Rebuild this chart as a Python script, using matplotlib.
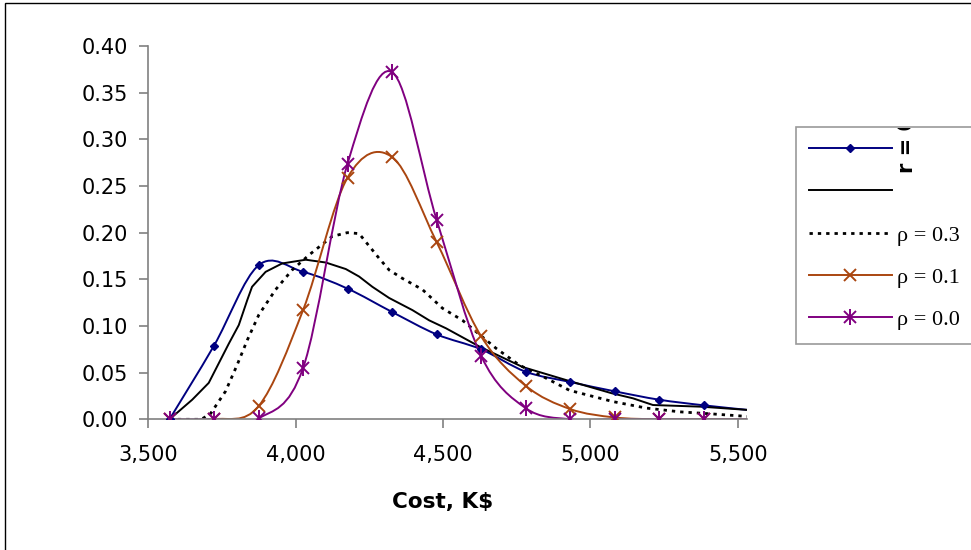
import numpy as np
import matplotlib
matplotlib.use("Agg")
import matplotlib.pyplot as plt
from matplotlib.path import Path
from matplotlib.patches import PathPatch, Rectangle
from matplotlib.lines import Line2D
from matplotlib.legend_handler import HandlerTuple
from matplotlib.ticker import FuncFormatter, MultipleLocator
from matplotlib.transforms import Bbox, TransformedBbox

# cost grid of the marked series (K$)
cost = [3572, 3723, 3874, 4025, 4176, 4327, 4478, 4629, 4780, 4931, 5082, 5233, 5384, 5535]

# marked series (smoothed lines in the original)
r_marked = [0.0, 0.079, 0.165, 0.158, 0.140, 0.115, 0.091, 0.075, 0.051, 0.040, 0.030, 0.021, 0.015, 0.010]
rho_01 = [0.0, 0.0, 0.014, 0.117, 0.259, 0.281, 0.190, 0.089, 0.036, 0.011, 0.002, 0.0, 0.0, 0.0]
rho_00 = [0.0, 0.0, 0.001, 0.055, 0.274, 0.372, 0.214, 0.068, 0.012, 0.0, 0.0, 0.0, 0.0, 0.0]

# unmarked series, read on their own cost points
solid_cost = [3572, 3649, 3705, 3739, 3773, 3807, 3836, 3852, 3898, 3954, 4034, 4102, 4170,
              4215, 4260, 4317, 4396, 4453, 4510, 4623, 4770, 4918, 5071, 5144, 5212, 5377, 5535]
solid_val = [0.0, 0.021, 0.039, 0.060, 0.081, 0.101, 0.128, 0.142, 0.158, 0.167, 0.171, 0.168, 0.161,
             0.153, 0.142, 0.130, 0.117, 0.106, 0.0975, 0.078, 0.056, 0.042, 0.028, 0.0225, 0.0153, 0.0135, 0.010]

dot_cost = [3572, 3680, 3711, 3762, 3801, 3836, 3875, 3932, 3988, 4045, 4124, 4175, 4215, 4283,
            4317, 4362, 4430, 4498, 4566, 4680, 4759, 4850, 4929, 5076, 5190, 5303, 5416, 5535]
dot_val = [0.0, 0.0, 0.006, 0.030, 0.058, 0.085, 0.112, 0.139, 0.160, 0.176, 0.196, 0.200, 0.199, 0.1725,
           0.160, 0.151, 0.139, 0.119, 0.106, 0.076, 0.058, 0.044, 0.031, 0.019, 0.012, 0.008, 0.0057, 0.003]

legend_labels = [" ", " ", "ρ = 0.3", "ρ = 0.1", "ρ = 0.0"]
rotated_label = "r = 0"

NAVY = "#000080"
ORANGE = "#AA4610"
PURPLE = "#800080"
GRAY = "#808080"


def smooth_path(xs, ys):
    # bezier curve through the points, like the spreadsheet "smoothed line"
    x = np.asarray(xs, float)
    y = np.asarray(ys, float)
    n = len(x)
    verts = [(x[0], y[0])]
    codes = [Path.MOVETO]
    for i in range(n - 1):
        j0 = max(i - 1, 0)
        j3 = min(i + 2, n - 1)
        c1 = (x[i] + (x[i + 1] - x[j0]) / 6, y[i] + (y[i + 1] - y[j0]) / 6)
        c2 = (x[i + 1] - (x[j3] - x[i]) / 6, y[i + 1] - (y[j3] - y[i]) / 6)
        verts += [c1, c2, (x[i + 1], y[i + 1])]
        codes += [Path.CURVE4] * 3
    return Path(verts, codes)


fig = plt.figure(figsize=(9.71, 5.5), dpi=100)
ax = fig.add_axes([148.3 / 971, 1 - 419.3 / 550, 598.4 / 971, 373.3 / 550])

# outer chart frame (runs off the picture at right and bottom)
fig.patches.append(Rectangle((5 / 971, -0.2), 2.0, 1.2 - 3 / 550, transform=fig.transFigure,
                             fill=False, edgecolor="black", lw=1.0))

lw = 1.4
ax.add_patch(PathPatch(smooth_path(cost, r_marked), fill=False, edgecolor=NAVY, lw=lw, zorder=2))
ax.plot(solid_cost, solid_val, color="black", lw=lw, zorder=2)
ax.plot(dot_cost, dot_val, color="black", lw=2.0, linestyle=(0, (1.2, 1.8)), zorder=2)
ax.add_patch(PathPatch(smooth_path(cost, rho_01), fill=False, edgecolor=ORANGE, lw=lw, zorder=2))
ax.add_patch(PathPatch(smooth_path(cost, rho_00), fill=False, edgecolor=PURPLE, lw=lw, zorder=2))

shown = list(range(13))
ax.plot(cost, r_marked, linestyle="none", marker="D", ms=4.5, color=NAVY, markevery=shown, zorder=3)
ax.plot(cost, rho_01, linestyle="none", marker="x", ms=9, mew=1.4, color=ORANGE, markevery=shown, zorder=3)
ax.plot(cost, rho_00, linestyle="none", marker="x", ms=9, mew=1.4, color=PURPLE, markevery=shown, zorder=4)
ax.plot(cost, rho_00, linestyle="none", marker="|", ms=11, mew=1.4, color=PURPLE, markevery=shown, zorder=4)

ax.set_xlim(3500, 5530)
ax.set_ylim(0, 0.40)
ax.xaxis.set_major_locator(MultipleLocator(500))
ax.yaxis.set_major_locator(MultipleLocator(0.05))
ax.xaxis.set_major_formatter(FuncFormatter(lambda v, p: f"{v:,.0f}"))
ax.yaxis.set_major_formatter(FuncFormatter(lambda v, p: f"{v:.2f}"))

for side in ["top", "right"]:
    ax.spines[side].set_visible(False)
for side in ["left", "bottom"]:
    ax.spines[side].set_color(GRAY)
    ax.spines[side].set_linewidth(1.2)
ax.tick_params(axis="both", direction="out", length=6.5, width=1.2, color=GRAY, labelsize=15,
               labelcolor="black")
ax.tick_params(axis="y", pad=8)
ax.tick_params(axis="x", pad=12)

ax.set_xlabel("Cost, K$", fontsize=15.5, fontweight="bold")
ax.xaxis.set_label_coords((443 - 148.3) / 598.4, (419.3 - 502) / 373.3)
ax.xaxis.label.set_va("center")

# legend
h1 = Line2D([], [], color=NAVY, lw=lw, marker="D", ms=4.5)
h2 = Line2D([], [], color="black", lw=lw)
h3 = Line2D([], [], color="black", lw=2.0, linestyle=(0, (1.2, 1.8)))
h4 = Line2D([], [], color=ORANGE, lw=lw, marker="x", ms=9, mew=1.4)
h5a = Line2D([], [], color=PURPLE, lw=lw, marker="x", ms=9, mew=1.4)
h5b = Line2D([], [], color=PURPLE, lw=0, marker="|", ms=11, mew=1.4)
leg = fig.legend([h1, h2, h3, h4, (h5a, h5b)], legend_labels,
                 handler_map={tuple: HandlerTuple(ndivide=1)},
                 loc="upper left", bbox_to_anchor=(796 / 971, 1 - 127 / 550),
                 bbox_transform=fig.transFigure, borderaxespad=0, borderpad=0.6,
                 handlelength=3.7, handletextpad=0.25, labelspacing=0.98,
                 prop={"family": "Liberation Serif", "size": 16}, fancybox=False)
leg.get_frame().set_edgecolor(GRAY)
leg.get_frame().set_linewidth(1.2)
leg.set_zorder(5)

# rotated label in the first legend row, cut at the legend's top edge
t = fig.text(907 / 971, 1 - 173 / 550, rotated_label, rotation=90, ha="center", va="bottom",
             fontsize=15, fontweight="bold", zorder=10)
t.set_clip_box(TransformedBbox(Bbox([[796 / 971, 0], [1, 1 - 128 / 550]]), fig.transFigure))
t.set_clip_on(True)

fig.savefig("out.png", dpi=100)
